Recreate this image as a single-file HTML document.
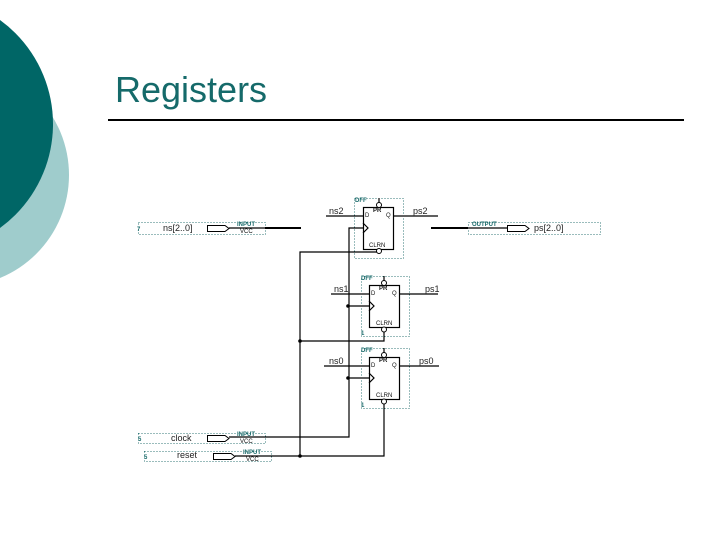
<!DOCTYPE html>
<html>
<head>
<meta charset="utf-8">
<style>
html,body{margin:0;padding:0;background:#fff;width:720px;height:540px;overflow:hidden}
svg{display:block}
text{font-family:"Liberation Sans",sans-serif}
.dot{fill:none;stroke:#357a7a;stroke-width:1;stroke-dasharray:1 2}
.w{stroke:#000;stroke-width:1.2;fill:none}
.l{font-size:9px;fill:#222}
.t{font-size:6px;fill:#111}
.g{font-size:6px;fill:#1c6c6c;font-weight:bold}
</style>
</head>
<body>
<svg width="720" height="540" viewBox="0 0 720 540" xmlns="http://www.w3.org/2000/svg">
<circle cx="-42.4" cy="175" r="111.4" fill="#9fcccc"/>
<circle cx="-75.5" cy="124" r="128.5" fill="#006666"/>
<text x="115" y="102" font-size="36" fill="#156a6a">Registers</text>
<rect x="108" y="119" width="576" height="2" fill="#000"/>

<!-- input/output pin regions -->
<rect class="dot" x="138.500" y="222.500" width="127" height="12"/>
<rect class="dot" x="468.500" y="222.500" width="132" height="12"/>
<rect class="dot" x="138.500" y="433.500" width="127" height="10"/>
<rect class="dot" x="144.500" y="451.500" width="127" height="10"/>

<!-- register regions -->
<rect class="dot" x="354.500" y="198.500" width="49" height="60"/>
<rect class="dot" x="361.500" y="276.500" width="48" height="60"/>
<rect class="dot" x="361.500" y="348.500" width="48" height="60"/>

<!-- buses -->
<line x1="265" y1="228" x2="301" y2="228" stroke="#000" stroke-width="2"/>
<line x1="431" y1="228" x2="468" y2="228" stroke="#000" stroke-width="2"/>

<!-- wires -->
<path class="w" d="M326 216H363M393 216H438"/>
<path class="w" d="M331 294H369M399 294H438"/>
<path class="w" d="M324 366H369M399 366H439"/>
<path class="w" d="M363 228H349V437H229"/>
<path class="w" d="M348 306H369M348 378H369"/>
<path class="w" d="M379 252H300V456H235"/>
<path class="w" d="M384 329V341H300"/>
<path class="w" d="M384 402V456H300"/>
<path class="w" d="M379 252V248M379 198V207M384 276V285M384 348V357"/>
<path class="w" d="M229 228H265M468 228H507"/>

<!-- junctions -->
<circle cx="348" cy="306" r="1.800"/>
<circle cx="348" cy="378" r="1.800"/>
<circle cx="300" cy="341" r="1.800"/>
<circle cx="300" cy="456" r="1.800"/>

<!-- registers -->
<g>
<rect x="363.500" y="207.500" width="30" height="42" fill="#fff" stroke="#000" stroke-width="1.200"/>
<path class="w" d="M363 223L368 228L363 233"/>
<circle cx="379" cy="205" r="2.500" fill="#fff" stroke="#000"/>
<circle cx="379" cy="251" r="2.500" fill="#fff" stroke="#000"/>
<text class="t" x="373" y="212" font-weight="bold">PR</text>
<text class="t" x="365" y="217">D</text>
<text class="t" x="386" y="217">Q</text>
<text class="t" x="369" y="247">CLRN</text>
<text class="g" x="355" y="202">DFF</text>
</g>
<g>
<rect x="369.500" y="285.500" width="30" height="42" fill="#fff" stroke="#000" stroke-width="1.200"/>
<path class="w" d="M369 301L374 306L369 311"/>
<circle cx="384" cy="283" r="2.500" fill="#fff" stroke="#000"/>
<circle cx="384" cy="329.500" r="2.500" fill="#fff" stroke="#000"/>
<text class="t" x="379" y="290" font-weight="bold">PR</text>
<text class="t" x="371" y="295">D</text>
<text class="t" x="392" y="295">Q</text>
<text class="t" x="376" y="325">CLRN</text>
<text class="g" x="361" y="280">DFF</text>
<text class="g" x="361" y="335">1</text>
</g>
<g>
<rect x="369.500" y="357.500" width="30" height="42" fill="#fff" stroke="#000" stroke-width="1.200"/>
<path class="w" d="M369 373L374 378L369 383"/>
<circle cx="384" cy="355" r="2.500" fill="#fff" stroke="#000"/>
<circle cx="384" cy="401.500" r="2.500" fill="#fff" stroke="#000"/>
<text class="t" x="379" y="362" font-weight="bold">PR</text>
<text class="t" x="371" y="367">D</text>
<text class="t" x="392" y="367">Q</text>
<text class="t" x="376" y="397">CLRN</text>
<text class="g" x="361" y="352">DFF</text>
<text class="g" x="361" y="407">1</text>
</g>

<!-- pins -->
<path d="M207.500 225.500H225L229 228.500L225 231.500H207.500Z" fill="#fff" stroke="#000"/>
<path d="M507.500 225.500H525L529 228.500L525 231.500H507.500Z" fill="#fff" stroke="#000"/>
<path d="M207.500 435.500H225L229 438.500L225 441.500H207.500Z" fill="#fff" stroke="#000"/>
<path d="M213.500 453.500H231L235 456.500L231 459.500H213.500Z" fill="#fff" stroke="#000"/>

<text class="g" x="237" y="226" font-size="5">INPUT</text>
<text class="t" x="240" y="233">VCC</text>
<text class="g" x="472" y="226">OUTPUT</text>
<text class="g" x="237" y="436">INPUT</text>
<text class="t" x="240" y="443">VCC</text>
<text class="g" x="243" y="454">INPUT</text>
<text class="t" x="246" y="461">VCC</text>
<text class="g" x="137" y="231">7</text>
<text class="g" x="138" y="441">5</text>
<text class="g" x="144" y="459">5</text>

<!-- labels -->
<text class="l" x="163" y="231">ns[2..0]</text>
<text class="l" x="534" y="231">ps[2..0]</text>
<text class="l" x="171" y="441">clock</text>
<text class="l" x="177" y="458">reset</text>
<text class="l" x="329" y="214">ns2</text>
<text class="l" x="413" y="214">ps2</text>
<text class="l" x="334" y="292">ns1</text>
<text class="l" x="425" y="292">ps1</text>
<text class="l" x="329" y="364">ns0</text>
<text class="l" x="419" y="364">ps0</text>
</svg>
</body>
</html>
